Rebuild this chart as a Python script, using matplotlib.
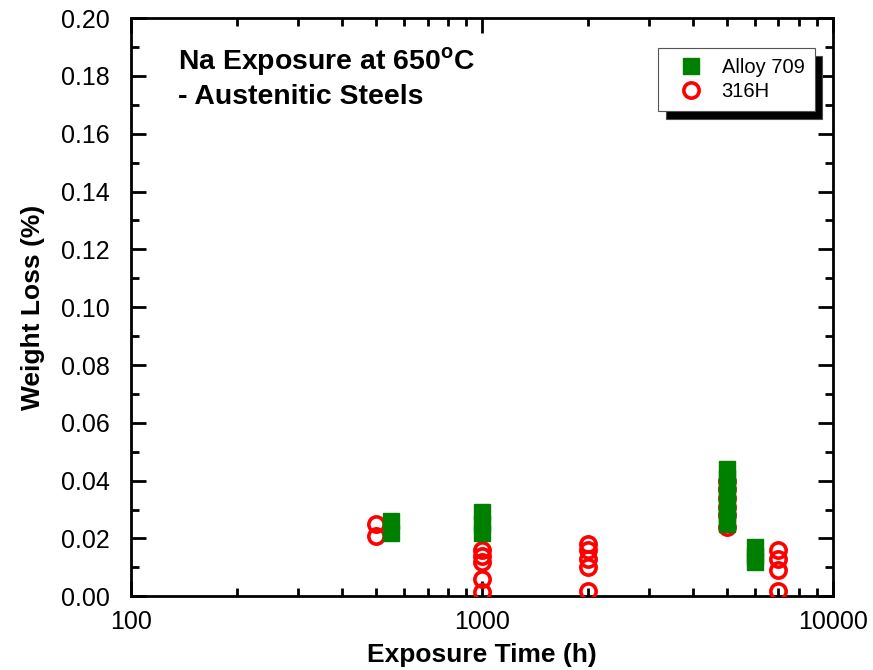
import matplotlib.pyplot as plt
from matplotlib.ticker import FixedLocator, FuncFormatter, MultipleLocator, LogLocator, NullFormatter

plt.rcParams['font.family'] = ['Liberation Sans', 'DejaVu Sans']
plt.rcParams['mathtext.fontset'] = 'custom'
plt.rcParams['mathtext.rm'] = 'Liberation Sans'
plt.rcParams['mathtext.bf'] = 'Liberation Sans:bold'

# Data
alloy709_time = [550, 550, 1000, 1000, 1000,
                 5000, 5000, 5000, 5000, 5000, 5000, 5000,
                 6000, 6000, 6000]
alloy709_loss = [0.026, 0.022, 0.029, 0.025, 0.022,
                 0.044, 0.041, 0.038, 0.035, 0.031, 0.028, 0.025,
                 0.017, 0.014, 0.012]

h316_time = [500, 500,
             1000, 1000, 1000, 1000, 1000,
             2000, 2000, 2000, 2000, 2000,
             5000, 5000, 5000, 5000, 5000, 5000,
             7000, 7000, 7000, 7000]
h316_loss = [0.025, 0.021,
             0.016, 0.014, 0.012, 0.006, 0.0015,
             0.018, 0.016, 0.013, 0.010, 0.002,
             0.040, 0.037, 0.034, 0.031, 0.028, 0.024,
             0.016, 0.013, 0.009, 0.0017]

x_ticks = [100, 1000, 10000]
x_labels = ["100", "1000", "10000"]

fig = plt.figure(figsize=(8.73, 6.70), dpi=100)
ax = fig.add_axes([0.150, 0.110, 0.804, 0.863])

p316, = ax.plot(h316_time, h316_loss, 'o', ms=11, mfc='none', mec='#ff0000', mew=2.6,
                label='316H', zorder=3)
p709, = ax.plot(alloy709_time, alloy709_loss, 's', ms=12, color='#008000', mec='#008000',
                label='Alloy 709', zorder=4)

ax.set_xscale('log')
ax.set_xlim(100, 10000)
ax.set_ylim(0, 0.20)
ax.xaxis.set_major_locator(FixedLocator(x_ticks))
ax.set_xticklabels(x_labels)
ax.xaxis.set_minor_locator(LogLocator(base=10, subs=range(2, 10)))
ax.xaxis.set_minor_formatter(NullFormatter())
ax.yaxis.set_major_locator(MultipleLocator(0.02))
ax.yaxis.set_minor_locator(MultipleLocator(0.01))
ax.yaxis.set_major_formatter(FuncFormatter(lambda v, p: f"{v:.2f}"))

ax.tick_params(which='both', direction='in', top=True, right=True, width=2,
               labelsize=18)
ax.tick_params(which='major', length=11)
ax.tick_params(which='minor', length=6)
ax.tick_params(axis='x', pad=10)
ax.tick_params(axis='y', pad=15)
for s in ax.spines.values():
    s.set_linewidth(2)

ax.set_xlabel("Exposure Time (h)", fontsize=19, fontweight='bold', labelpad=6)
ax.set_ylabel("Weight Loss (%)", fontsize=19, fontweight='bold', labelpad=12)

ax.text(0.067, 0.953, r"Na Exposure at 650$^{\mathbf{o}}$C" + "\n- Austenitic Steels",
        transform=ax.transAxes, fontsize=20.4, fontweight='bold', va='top',
        linespacing=1.3)

leg = ax.legend([p709, p316], ['Alloy 709', '316H'],
                loc='upper right', bbox_to_anchor=(0.974, 0.948), borderaxespad=0,
                fontsize=14.5, frameon=True, fancybox=False, edgecolor='#555555',
                framealpha=1, labelspacing=0.25, handletextpad=0.35, borderpad=0.5,
                handlelength=2.3,
                shadow={'ox': 5.5, 'oy': -5.5, 'facecolor': 'black', 'alpha': 1})
leg.get_frame().set_linewidth(0.8)

fig.savefig("out.png", dpi=100)
